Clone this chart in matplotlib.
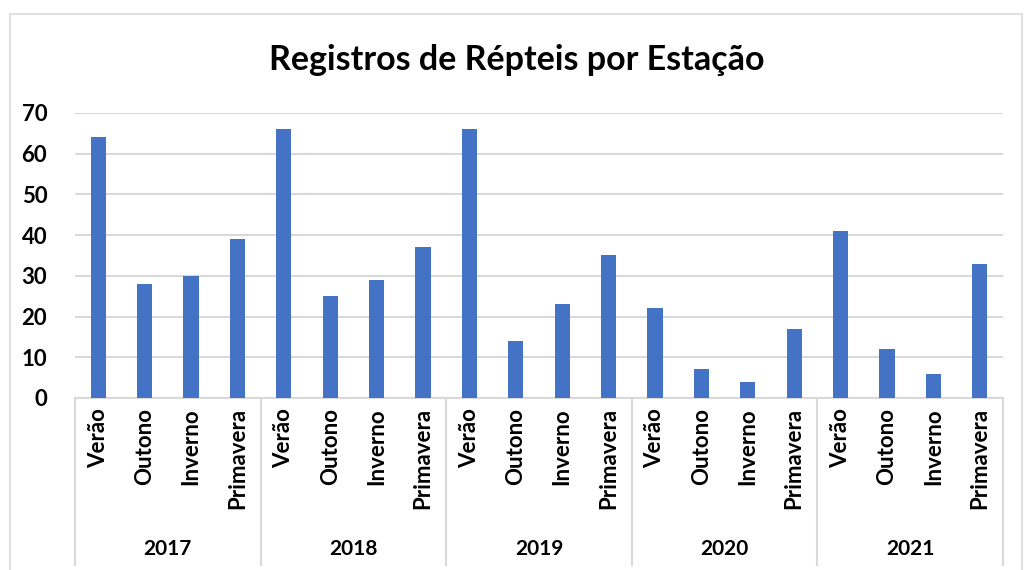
import matplotlib.pyplot as plt
import numpy as np
from matplotlib.patches import Rectangle

# dados
anos = ['2017', '2018', '2019', '2020', '2021']
estacoes = ['Verão', 'Outono', 'Inverno', 'Primavera']
registros_2017 = [64, 28, 30, 39]
registros_2018 = [66, 25, 29, 37]
registros_2019 = [66, 14, 23, 35]
registros_2020 = [22, 7, 4, 17]
registros_2021 = [41, 12, 6, 33]

valores = registros_2017 + registros_2018 + registros_2019 + registros_2020 + registros_2021
rotulos = estacoes * len(anos)

plt.rcParams['font.family'] = ['Lato', 'DejaVu Sans']

fig = plt.figure(figsize=(10.33, 5.70), dpi=100)
ax = fig.add_axes([0.0726, 0.3018, 0.8984, 0.5])

# moldura do gráfico
fig.patches.append(Rectangle((10 / 1033, -0.01), 1012 / 1033, 1 - 14 / 570 + 0.01,
                             transform=fig.transFigure, fill=False,
                             edgecolor='#d9d9d9', linewidth=1.2))

x = np.arange(len(valores))
ax.bar(x, valores, width=0.33, color='#4472C4', zorder=3)

ax.set_xlim(-0.5, len(valores) - 0.5)
ax.set_ylim(0, 70)
ax.set_yticks(range(0, 71, 10))
ax.yaxis.grid(True, color='#d9d9d9', linewidth=1.5, zorder=0)
for s in ['top', 'right', 'left']:
    ax.spines[s].set_visible(False)
ax.spines['bottom'].set_color('#d9d9d9')
ax.spines['bottom'].set_linewidth(1.5)
ax.tick_params(axis='y', length=0, labelsize=16, pad=20)
for t in ax.get_yticklabels():
    t.set_fontweight('bold')

ax.set_xticks(x)
ax.set_xticklabels([])
ax.tick_params(axis='x', length=0)

# rótulos das estações e dos anos
for i, r in enumerate(rotulos):
    ax.text(i, -0.035, r, transform=ax.get_xaxis_transform(), rotation=90,
            ha='center', va='top', fontsize=16, fontweight='bold')

n = len(estacoes)
for j, ano in enumerate(anos):
    ax.text(j * n + (n - 1) / 2, -0.53, ano, transform=ax.get_xaxis_transform(),
            ha='center', va='center', fontsize=15, fontweight='bold')

for k in range(len(anos) + 1):
    ax.plot([k * n - 0.5, k * n - 0.5], [0, -0.585], transform=ax.get_xaxis_transform(),
            color='#d9d9d9', linewidth=1.5, clip_on=False)

fig.text(0.5, 0.895, 'Registros de Répteis por Estação', ha='center', va='center',
         fontsize=24.5, fontweight='bold')

fig.savefig('out.png', dpi=100)
